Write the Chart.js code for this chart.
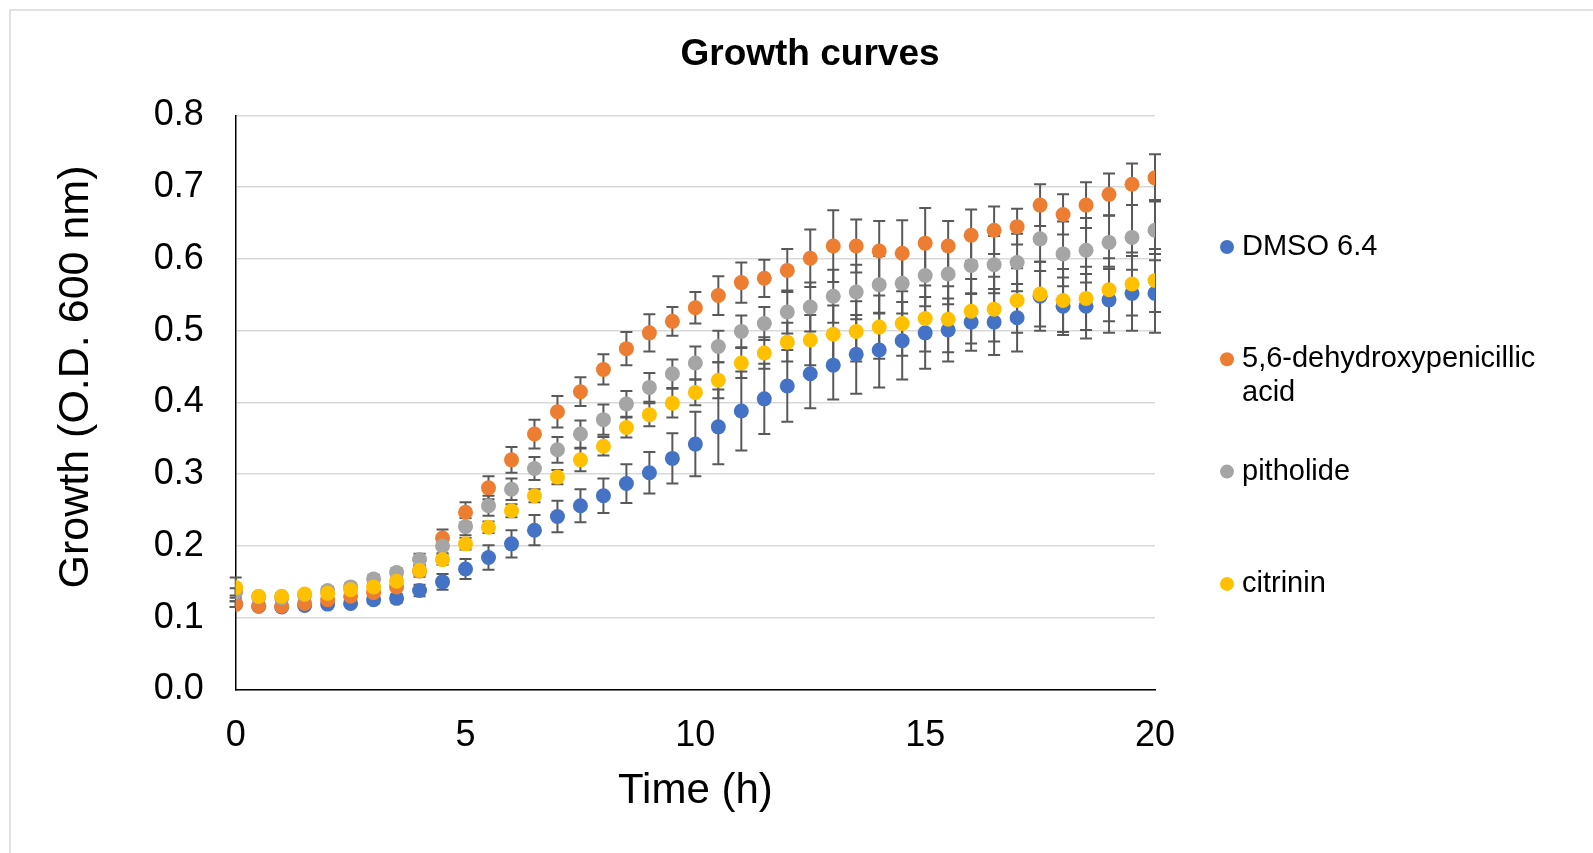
<!DOCTYPE html>
<html>
<head>
<meta charset="utf-8">
<script src="https://cdn.jsdelivr.net/npm/chart.js@4.4.1/dist/chart.umd.min.js"></script>
<style>
  html, body { margin: 0; padding: 0; background: #ffffff; }
  #wrap { width: 1593px; height: 853px; position: relative; }
</style>
</head>
<body>
<div id="wrap"><canvas id="c" width="1593" height="853"></canvas></div>
<script>
// ---------- DATA ----------
const times = [0, 0.5, 1, 1.5, 2, 2.5, 3, 3.5, 4, 4.5, 5, 5.5, 6, 6.5, 7, 7.5, 8, 8.5, 9, 9.5,
               10, 10.5, 11, 11.5, 12, 12.5, 13, 13.5, 14, 14.5, 15, 15.5, 16, 16.5, 17, 17.5, 18, 18.5, 19, 19.5, 20];

const seriesNames = ['DMSO 6.4', '5,6-dehydroxypenicillic acid', 'pitholide', 'citrinin'];

const dmso = [0.119, 0.116, 0.115, 0.117, 0.119, 0.120, 0.125, 0.127, 0.138, 0.150, 0.168, 0.184, 0.203, 0.222, 0.241, 0.256, 0.270, 0.287, 0.302, 0.322,
              0.342, 0.366, 0.388, 0.405, 0.423, 0.440, 0.452, 0.467, 0.473, 0.486, 0.497, 0.501, 0.512, 0.512, 0.518, 0.548, 0.534, 0.534, 0.543, 0.552, 0.552];
const dmsoErr = [0.004, 0.004, 0.003, 0.003, 0.004, 0.004, 0.005, 0.006, 0.008, 0.011, 0.014, 0.017, 0.019, 0.021, 0.022, 0.023, 0.024, 0.027, 0.029, 0.035,
                 0.045, 0.052, 0.055, 0.049, 0.050, 0.048, 0.048, 0.055, 0.052, 0.054, 0.050, 0.044, 0.040, 0.046, 0.047, 0.048, 0.040, 0.045, 0.046, 0.052, 0.055];

const dehydroxy = [0.119, 0.116, 0.116, 0.120, 0.125, 0.130, 0.135, 0.143, 0.165, 0.211, 0.247, 0.281, 0.320, 0.356, 0.387, 0.415, 0.446, 0.475, 0.497, 0.513,
                   0.532, 0.549, 0.567, 0.573, 0.584, 0.601, 0.618, 0.618, 0.611, 0.608, 0.622, 0.618, 0.633, 0.640, 0.645, 0.675, 0.662, 0.675, 0.690, 0.704, 0.713];
const dehydroxyErr = [0.004, 0.004, 0.004, 0.004, 0.004, 0.004, 0.004, 0.004, 0.008, 0.012, 0.014, 0.016, 0.018, 0.020, 0.022, 0.020, 0.021, 0.023, 0.026, 0.020,
                      0.022, 0.027, 0.028, 0.026, 0.030, 0.040, 0.050, 0.037, 0.042, 0.046, 0.049, 0.035, 0.036, 0.033, 0.025, 0.029, 0.028, 0.032, 0.029, 0.029, 0.033];

const pitholide = [0.136, 0.129, 0.128, 0.132, 0.138, 0.143, 0.154, 0.163, 0.181, 0.200, 0.227, 0.256, 0.279, 0.308, 0.334, 0.356, 0.376, 0.398, 0.421, 0.440,
                   0.455, 0.478, 0.499, 0.510, 0.526, 0.533, 0.548, 0.554, 0.564, 0.566, 0.577, 0.579, 0.591, 0.592, 0.595, 0.628, 0.607, 0.612, 0.623, 0.630, 0.640];
const pitholideErr = [0.005, 0.005, 0.005, 0.005, 0.005, 0.005, 0.006, 0.006, 0.008, 0.010, 0.012, 0.014, 0.015, 0.016, 0.018, 0.019, 0.021, 0.018, 0.020, 0.020,
                      0.023, 0.022, 0.022, 0.023, 0.030, 0.034, 0.037, 0.038, 0.040, 0.042, 0.043, 0.042, 0.040, 0.040, 0.040, 0.045, 0.045, 0.045, 0.037, 0.045, 0.042];

const citrinin = [0.142, 0.130, 0.130, 0.133, 0.134, 0.139, 0.143, 0.151, 0.166, 0.181, 0.203, 0.226, 0.249, 0.270, 0.296, 0.320, 0.339, 0.365, 0.383, 0.399,
                  0.414, 0.431, 0.455, 0.469, 0.484, 0.487, 0.495, 0.499, 0.505, 0.510, 0.517, 0.516, 0.527, 0.530, 0.542, 0.551, 0.542, 0.545, 0.557, 0.565, 0.570];
const citrininErr = [0.014, 0.004, 0.004, 0.004, 0.004, 0.004, 0.004, 0.004, 0.006, 0.007, 0.008, 0.008, 0.009, 0.009, 0.010, 0.016, 0.013, 0.014, 0.016, 0.020,
                     0.018, 0.025, 0.021, 0.022, 0.027, 0.035, 0.040, 0.042, 0.044, 0.045, 0.046, 0.046, 0.045, 0.045, 0.045, 0.045, 0.044, 0.044, 0.044, 0.044, 0.044];

const yTicks = [0, 0.1, 0.2, 0.3, 0.4, 0.5, 0.6, 0.7, 0.8];
const xTicks = [0, 5, 10, 15, 20];
const chartTitle = 'Growth curves';
const xTitle = 'Time (h)';
const yTitle = 'Growth (O.D. 600 nm)';

// ---------- BUILD ----------
const colors = ['#4472C4', '#ED7D31', '#A5A5A5', '#FFC000'];
const means = [dmso, dehydroxy, pitholide, citrinin];
const errs = [dmsoErr, dehydroxyErr, pitholideErr, citrininErr];
const FONT = "'Liberation Sans', Arial, sans-serif";

const datasets = means.map((m, i) => ({
  label: seriesNames[i],
  data: times.map((t, k) => ({ x: t, y: m[k] })),
  errors: errs[i],
  backgroundColor: colors[i],
  borderColor: colors[i],
  borderWidth: 0,
  pointRadius: 7.5,
  pointHoverRadius: 7.5,
  showLine: false,
  order: 4 - i
}));

const framePlugin = {
  id: 'frame',
  beforeDraw(chart) {
    const ctx = chart.ctx;
    ctx.save();
    ctx.fillStyle = '#ffffff';
    ctx.fillRect(0, 0, chart.width, chart.height);
    ctx.strokeStyle = '#d9d9d9';
    ctx.lineWidth = 1.5;
    ctx.strokeRect(10, 10, chart.width + 10, chart.height + 10);
    ctx.restore();
  }
};

const errorBarPlugin = {
  id: 'errorBars',
  beforeDatasetsDraw(chart) {
    const ctx = chart.ctx;
    const xs = chart.scales.x, ys = chart.scales.y;
    ctx.save();
    ctx.strokeStyle = '#595959';
    ctx.lineWidth = 2;
    chart.data.datasets.forEach(ds => {
      ds.data.forEach((p, k) => {
        const e = ds.errors[k];
        const px = xs.getPixelForValue(p.x);
        const top = ys.getPixelForValue(p.y + e);
        const bot = ys.getPixelForValue(p.y - e);
        ctx.beginPath();
        ctx.moveTo(px, top); ctx.lineTo(px, bot);
        ctx.moveTo(px - 6, top); ctx.lineTo(px + 6, top);
        ctx.moveTo(px - 6, bot); ctx.lineTo(px + 6, bot);
        ctx.stroke();
      });
    });
    ctx.restore();
  }
};

const yTitlePlugin = {
  id: 'yTitle',
  afterDraw(chart) {
    const ctx = chart.ctx;
    ctx.save();
    ctx.translate(76, 377);
    ctx.rotate(-Math.PI / 2);
    ctx.font = '43px ' + FONT;
    ctx.fillStyle = '#000000';
    ctx.textAlign = 'center';
    ctx.textBaseline = 'middle';
    ctx.fillText(yTitle, 0, 0);
    ctx.restore();
  }
};

const legendPlugin = {
  id: 'sideLegend',
  afterDraw(chart) {
    const ctx = chart.ctx;
    ctx.save();
    ctx.font = '29px ' + FONT;
    ctx.textBaseline = 'middle';
    ctx.textAlign = 'left';
    const x0 = 1227, tx = 1242, maxW = 320, lineH = 33.5;
    let y = 247;
    chart.data.datasets.forEach(ds => {
      const words = ds.label.split(' ');
      const lines = [];
      let cur = '';
      words.forEach(w => {
        const test = cur ? cur + ' ' + w : w;
        if (ctx.measureText(test).width > maxW && cur) { lines.push(cur); cur = w; }
        else cur = test;
      });
      if (cur) lines.push(cur);
      ctx.fillStyle = ds.backgroundColor;
      ctx.beginPath();
      ctx.arc(x0, y, 7, 0, Math.PI * 2);
      ctx.fill();
      ctx.fillStyle = '#000000';
      lines.forEach((ln, j) => ctx.fillText(ln, tx, y + j * lineH));
      y += 112.3;
    });
    ctx.restore();
  }
};

new Chart(document.getElementById('c'), {
  type: 'scatter',
  data: { datasets },
  plugins: [framePlugin, errorBarPlugin, yTitlePlugin, legendPlugin],
  options: {
    responsive: false,
    animation: false,
    devicePixelRatio: 1,
    layout: { padding: { left: 27, right: 0, top: 0, bottom: 0 } },
    plugins: {
      legend: { display: false },
      tooltip: { enabled: false },
      title: {
        display: true,
        text: chartTitle,
        color: '#000000',
        font: { family: FONT, size: 37, weight: 'bold' },
        padding: { top: 33, bottom: 38 }
      }
    },
    scales: {
      x: {
        type: 'linear',
        min: 0, max: 20,
        afterFit(scale) { scale.height = 163.5; },
        afterBuildTicks(scale) { scale.ticks = xTicks.map(v => ({ value: v })); },
        ticks: { color: '#000000', font: { family: FONT, size: 36 }, padding: 25, maxRotation: 0, callback: v => String(v) },
        grid: { display: false, drawTicks: false },
        border: { display: true, color: '#000000', width: 1.5 },
        title: { display: true, text: xTitle, color: '#000000', font: { family: FONT, size: 42 }, padding: { top: 0, bottom: 36 } }
      },
      y: {
        min: 0, max: 0.8,
        afterFit(scale) { scale.width = 208.7; },
        afterBuildTicks(scale) { scale.ticks = yTicks.map(v => ({ value: v })); },
        ticks: { color: '#000000', font: { family: FONT, size: 36 }, padding: 32, callback: v => Number(v).toFixed(1) },
        grid: { color: '#d9d9d9', lineWidth: 1.5, drawTicks: false },
        border: { display: true, color: '#000000', width: 1.5 },
        title: { display: false }
      },
      r: {
        type: 'linear',
        position: 'right',
        display: true,
        min: 0, max: 1,
        afterFit(scale) { scale.width = 438; },
        ticks: { display: false },
        grid: { display: false, drawTicks: false },
        border: { display: false },
        title: { display: false }
      }
    }
  }
});
</script>
</body>
</html>
